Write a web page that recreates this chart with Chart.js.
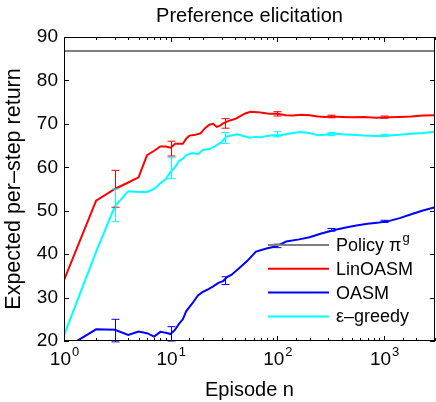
<!DOCTYPE html>
<html>
<head>
<meta charset="utf-8">
<script src="https://cdn.jsdelivr.net/npm/chart.js@4/dist/chart.umd.min.js"></script>
<style>
  body { margin: 0; background: #fff; }
</style>
</head>
<body>
<canvas id="chart" width="436" height="402"></canvas>
<script>
// axes
const xMin = 1, xMax = 3000;
const yMin = 20, yMax = 90, yStep = 10;
const xPowers = [0, 1, 2, 3];

// Policy pi^g (constant reference)
const policyX = [1, 3000];
const policyY = [86.8, 86.8];

// LinOASM
const linX = [1, 2, 3, 4, 5, 6, 7, 8, 9, 10, 11, 13, 14, 15, 17, 19, 21, 23, 25, 27, 29, 31, 35, 40, 45, 50, 56, 65, 75, 85, 100, 120, 140, 170, 200, 240, 280, 330, 400, 500, 650, 850, 1100, 1400, 1800, 2300, 3000];
const linY = [34, 52.3, 55, 56.5, 57.7, 62.8, 63.8, 64.8, 64.8, 64.5, 65.4, 65.4, 66.6, 67.3, 67.5, 67.8, 69, 69.8, 70, 69.3, 69.6, 70.1, 70.7, 71.1, 71.8, 72.4, 72.8, 72.7, 72.5, 72.3, 72.3, 72, 71.9, 72.1, 72, 71.7, 71.6, 71.7, 71.6, 71.5, 71.6, 71.4, 71.5, 71.6, 71.7, 71.9, 72];

// OASM
const oasmX = [1, 2, 3, 4, 5, 6, 7, 8, 9, 10, 11, 12, 13, 14, 16, 18, 20, 22, 25, 28, 31, 34, 37, 44, 52, 63, 79, 98, 121, 160, 200, 263, 350, 450, 550, 700, 900, 1100, 1400, 1800, 2270, 3000];
const oasmY = [18.2, 22.7, 22.6, 21.4, 22.2, 21.8, 21, 22.1, 21.9, 21.6, 22.6, 24, 25, 26.9, 28.7, 30.5, 31.3, 31.8, 32.6, 33.4, 33.8, 34.8, 35.2, 36.8, 38.4, 40.6, 41.3, 41.8, 42.9, 43.4, 43.9, 44.8, 45.6, 46.2, 46.6, 47, 47.3, 47.6, 48.3, 49.2, 50, 50.8];

// epsilon-greedy
const epsX = [1, 2, 3, 4, 5, 6, 7, 8, 9, 10, 11, 12, 13, 14, 16, 18, 20, 23, 26, 30, 33, 37, 42, 48, 55, 62, 70, 80, 90, 105, 120, 140, 165, 200, 240, 280, 330, 400, 500, 650, 850, 1100, 1400, 1800, 2300, 3000];
const epsY = [21.3, 40.5, 51, 54.5, 54.3, 54.3, 55, 56.3, 57.3, 59, 60, 61.5, 62, 62.8, 63.3, 63, 64, 64.2, 64.8, 65.8, 67, 67.3, 67.6, 67.2, 66.8, 67, 66.9, 67.2, 67.4, 67.3, 67.6, 67.9, 68.1, 67.9, 67.4, 67.5, 67.8, 67.6, 67.5, 67.3, 67.2, 67.3, 67.5, 67.7, 67.9, 68.2];

// error bars
const errX = [3, 10, 32, 100, 316, 1000];
const linLo = [50.8, 62.6, 69, 71.8, 71.4, 71.3];
const linHi = [59.3, 66, 71.2, 72.8, 72.0, 71.8];
const oasmLo = [19.8, 20, 33, 41.5, 45.3, 47.3];
const oasmHi = [25, 23.3, 34.8, 42.3, 45.9, 47.8];
const epsLo = [47.5, 57.4, 65.5, 67, 67.3, 67.1];
const epsHi = [55, 62.2, 68, 68.2, 68.0, 67.6];

const names = ['Policy π^g', 'LinOASM', 'OASM', 'ε–greedy'];
const colors = ['#808080', '#ff0000', '#0000ff', '#00ffff'];

const FONT = '"Liberation Sans", Arial, Helvetica, sans-serif';
Chart.defaults.font.family = FONT;
Chart.defaults.color = '#000';

function pts(xs, ys) {
    return xs.map((x, i) => ({ x: x, y: ys[i] }));
}

const errors = [
    null,
    { lo: linLo, hi: linHi },
    { lo: oasmLo, hi: oasmHi },
    { lo: epsLo, hi: epsHi }
];

// frame, inward ticks, x tick labels with exponents, legend
const framePlugin = {
    id: 'frame',
    afterDraw(chart) {
        const { ctx, chartArea: a, scales } = chart;
        const xs = scales.x, ys = scales.y;
        ctx.save();
        ctx.strokeStyle = '#000';
        ctx.lineWidth = 1;
        ctx.strokeRect(a.left + 0.5, a.top + 0.5, a.right - a.left - 1, a.bottom - a.top - 1);
        ctx.beginPath();
        xs.ticks.forEach(t => {
            const p = Math.round(xs.getPixelForValue(t.value)) + 0.5;
            const major = Math.abs(Math.log10(t.value) - Math.round(Math.log10(t.value))) < 1e-9;
            const len = major ? 5 : 3;
            ctx.moveTo(p, a.bottom); ctx.lineTo(p, a.bottom - len);
            ctx.moveTo(p, a.top); ctx.lineTo(p, a.top + len);
        });
        ys.ticks.forEach(t => {
            const p = Math.round(ys.getPixelForValue(t.value)) + 0.5;
            ctx.moveTo(a.left, p); ctx.lineTo(a.left + 5, p);
            ctx.moveTo(a.right, p); ctx.lineTo(a.right - 5, p);
        });
        ctx.stroke();

        // x tick labels 10^k
        ctx.fillStyle = '#000';
        ctx.textBaseline = 'alphabetic';
        xPowers.forEach(k => {
            const p = xs.getPixelForValue(Math.pow(10, k));
            ctx.font = '19px ' + FONT;
            const w1 = ctx.measureText('10').width;
            ctx.font = '13px ' + FONT;
            const w2 = ctx.measureText(String(k)).width;
            const s = p - (w1 + w2) / 2;
            ctx.font = '19px ' + FONT;
            ctx.fillText('10', s, a.bottom + 24);
            ctx.font = '13px ' + FONT;
            ctx.fillText(String(k), s + w1 + 1, a.bottom + 15);
        });

        // legend
        const lx0 = 268, lx1 = 329, ly0 = 245, dy = 23.8;
        names.forEach((n, i) => {
            const y = ly0 + i * dy;
            ctx.strokeStyle = colors[i];
            ctx.lineWidth = 2;
            ctx.beginPath();
            ctx.moveTo(lx0, y); ctx.lineTo(lx1, y);
            ctx.stroke();
            const parts = n.split('^');
            ctx.fillStyle = '#000';
            ctx.textBaseline = 'middle';
            ctx.font = '18px ' + FONT;
            ctx.fillText(parts[0], 336, y + 1);
            if (parts[1]) {
                const w = ctx.measureText(parts[0]).width;
                ctx.font = '13px ' + FONT;
                ctx.fillText(parts[1], 336 + w + 1, y - 7);
            }
        });
        ctx.restore();
    }
};

const errorPlugin = {
    id: 'errbars',
    afterDatasetsDraw(chart) {
        const { ctx, scales } = chart;
        ctx.save();
        ctx.lineWidth = 1;
        errors.forEach((e, i) => {
            if (!e) return;
            ctx.strokeStyle = colors[i];
            ctx.beginPath();
            errX.forEach((x, j) => {
                const px = Math.round(scales.x.getPixelForValue(x)) + 0.5;
                const lo = scales.y.getPixelForValue(e.lo[j]);
                const hi = scales.y.getPixelForValue(e.hi[j]);
                ctx.moveTo(px, lo); ctx.lineTo(px, hi);
                ctx.moveTo(px - 4, lo); ctx.lineTo(px + 4, lo);
                ctx.moveTo(px - 4, hi); ctx.lineTo(px + 4, hi);
            });
            ctx.stroke();
        });
        ctx.restore();
    }
};

const ds = [
    [policyX, policyY],
    [linX, linY],
    [oasmX, oasmY],
    [epsX, epsY]
].map((d, i) => ({
    label: names[i],
    data: pts(d[0], d[1]),
    borderColor: colors[i],
    backgroundColor: colors[i],
    borderWidth: 2,
    pointRadius: 0,
    tension: 0,
    clip: 0,
    order: [4, 1, 3, 2][i]
}));

new Chart(document.getElementById('chart'), {
    type: 'line',
    data: { datasets: ds },
    options: {
        responsive: false,
        animation: false,
        layout: { padding: { left: 0, right: 1, top: 0, bottom: 0 } },
        plugins: {
            legend: { display: false },
            tooltip: { enabled: false },
            title: {
                display: true,
                fullSize: false,
                text: 'Preference elicitation',
                font: { size: 20, weight: 'normal' },
                color: '#000',
                padding: { top: 4, bottom: 9 }
            }
        },
        scales: {
            x: {
                type: 'logarithmic',
                min: xMin,
                max: xMax,
                grid: { display: false, drawTicks: false },
                border: { display: false },
                ticks: { display: false },
                afterFit(s) { s.height = 61; },
                title: {
                    display: true,
                    text: 'Episode n',
                    font: { size: 20 },
                    color: '#000',
                    padding: { top: 0, bottom: 0 }
                }
            },
            y: {
                min: yMin,
                max: yMax,
                grid: { display: false, drawTicks: false },
                border: { display: false },
                ticks: { stepSize: yStep, font: { size: 19 }, color: '#000', padding: 6 },
                afterFit(s) { s.width = 64; },
                title: {
                    display: true,
                    text: 'Expected per–step return',
                    font: { size: 21.5 },
                    color: '#000',
                    padding: { top: 1, bottom: 0 }
                }
            }
        }
    },
    plugins: [errorPlugin, framePlugin]
});
</script>
</body>
</html>
